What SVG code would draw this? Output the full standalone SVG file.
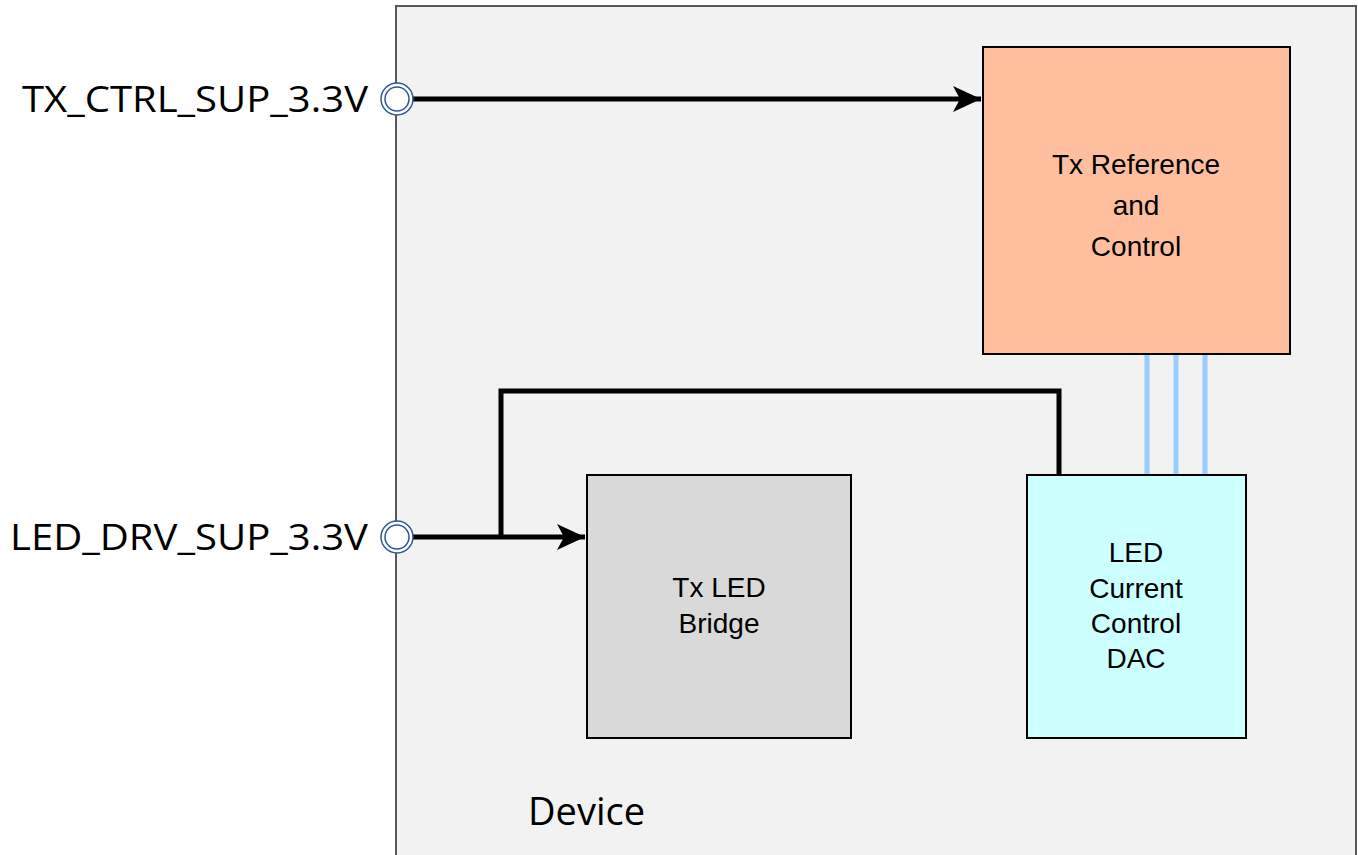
<svg xmlns="http://www.w3.org/2000/svg" width="1358" height="855" viewBox="0 0 1358 855">
<defs>
<style>
.box{stroke:#000;stroke-width:2}
.lbl{font-family:"Liberation Sans",Arial,sans-serif;font-size:28px;fill:#000;text-anchor:middle}
.pin{font-family:"Open Sans","Liberation Sans",sans-serif;font-size:37px;fill:#000;text-anchor:end}
.wire{fill:none;stroke:#000;stroke-width:5}
.bus{stroke:#99CCFF;stroke-width:5}
.port{fill:#fff;stroke:#2F5597;stroke-width:1.5}
</style>
<marker id="arr" markerUnits="userSpaceOnUse" markerWidth="30" markerHeight="30" viewBox="0 0 30 30" refX="28" refY="15" orient="auto">
<path d="M0,2 L28,15 L0,28 L7,15 Z" fill="#000"/>
</marker>
</defs>
<rect width="1358" height="855" fill="#fff"/>
<g id="device">
<rect x="396" y="6" width="960" height="860" fill="#F2F2F2" stroke="#595959" stroke-width="2"/>
<text x="528" y="825" font-family="Open Sans,Liberation Sans,sans-serif" font-size="38" fill="#000">Device</text>
</g>
<g id="connectors">
<line class="bus" x1="1147" y1="354" x2="1147" y2="475"/>
<line class="bus" x1="1176" y1="354" x2="1176" y2="475"/>
<line class="bus" x1="1205" y1="354" x2="1205" y2="475"/>
<line class="wire" x1="412" y1="99" x2="981" y2="99" marker-end="url(#arr)"/>
<line class="wire" x1="412" y1="537" x2="585" y2="537" marker-end="url(#arr)"/>
<polyline class="wire" points="501,537 501,391 1059,391 1059,475"/>
</g>
<g id="tx_ref">
<rect class="box" x="983" y="47" width="307" height="307" fill="#FFBF9F" stroke-width="1.5"/>
<text class="lbl" x="1136" y="174" font-size="30">Tx Reference</text>
<text class="lbl" x="1136" y="215" font-size="30">and</text>
<text class="lbl" x="1136" y="256" font-size="30">Control</text>
</g>
<g id="tx_led_bridge">
<rect class="box" x="587" y="475" width="264" height="263" fill="#D9D9D9"/>
<text class="lbl" x="719" y="597">Tx LED</text>
<text class="lbl" x="719" y="633">Bridge</text>
</g>
<g id="led_dac">
<rect class="box" x="1027" y="475" width="219" height="263" fill="#CCFFFF"/>
<text class="lbl" x="1136" y="562">LED</text>
<text class="lbl" x="1136" y="598">Current</text>
<text class="lbl" x="1136" y="633">Control</text>
<text class="lbl" x="1136" y="668">DAC</text>
</g>
<g id="tx_ctrl_sup">
<circle class="port" cx="397" cy="99" r="16"/>
<circle class="port" cx="397" cy="99" r="12"/>
<text class="pin" x="368" y="112" textLength="346" lengthAdjust="spacingAndGlyphs">TX_CTRL_SUP_3.3V</text>
</g>
<g id="led_drv_sup">
<circle class="port" cx="397" cy="537" r="16"/>
<circle class="port" cx="397" cy="537" r="12"/>
<text class="pin" x="368" y="550" textLength="358" lengthAdjust="spacingAndGlyphs">LED_DRV_SUP_3.3V</text>
</g>
</svg>
